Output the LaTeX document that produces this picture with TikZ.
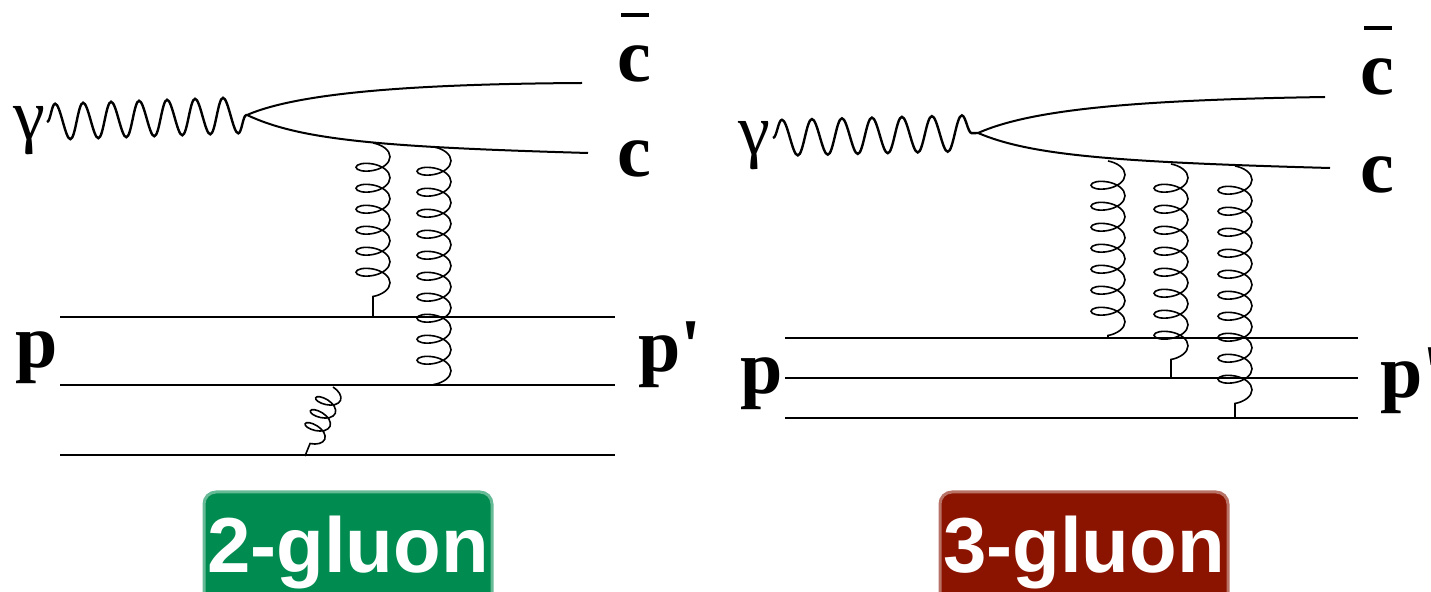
\documentclass[tikz,border=0pt]{standalone}
\usepackage{fontspec}
\setmainfont{Liberation Serif}
\newfontfamily\badgefont{Liberation Sans}
\usetikzlibrary{decorations.pathmorphing}
\definecolor{gluongreen}{HTML}{008C50}
\definecolor{gluonred}{HTML}{8B1400}
\newcommand{\quarkbar}{\rlap{\hspace{0.05em}\raisebox{0.86em}{\rule{0.36em}{0.045em}}}c}
\newcommand{\pprime}{p\textquotesingle}

\begin{document}
\begin{tikzpicture}
    [
      x=0.5pt,
      y=-0.5pt,
      quark/.style=
      {
        line width=1pt,
      },
      proton/.style=
      {
        line width=1.2pt,
      },
      photon/.style=
      {
        line width=1.2pt,
        decorate,
        decoration={snake, segment length=14pt, amplitude=9pt}
      },
      gluon/.style=
      {
        line width=0.8pt,
        decorate,
        decoration={coil, aspect=0.5, segment length=10.5pt, amplitude=8.5pt}
      },
      lbl/.style=
      {
        inner sep=0pt,
        anchor=base west,
        font=\fontsize{38}{40}\selectfont\bfseries
      },
      gam/.style=
      {
        inner sep=0pt,
        anchor=base west,
        font=\fontsize{36}{38}\selectfont
      },
      badge/.style=
      {
        inner sep=0pt,
        minimum width=144pt,
        minimum height=61pt,
        rounded corners=6pt,
        line width=1.5pt,
        text=white,
        font=\badgefont\bfseries\fontsize{39}{40}\selectfont
      }
    ]
    \useasboundingbox (0,0) rectangle (1431,592);

    % 2-gluon
    \coordinate (LVertex) at (247,115);
    \coordinate (LPhotonIn) at (47,122);
    \coordinate (LCbarEnd) at (582,83);
    \coordinate (LCEnd) at (588,153);
    \foreach \y/\n in {317/1,385/2,455/3}
    {
      \coordinate (LPin\n) at (60,\y);
      \coordinate (LPout\n) at (615,\y);
      \draw[proton] (LPin\n) -- (LPout\n);
    }
    \coordinate (LGlA) at (373,143);
    \coordinate (LGlB) at (434,147);
    \coordinate (LGlC) at (333,387);
    \coordinate (LGlAend) at (373,317);
    \coordinate (LGlBend) at (434,385);
    \coordinate (LGlCend) at (305,456);

    \node[gam] (LGamma) at (13,140) {γ};
    \node[lbl] (LCbar) at (617,82) {\quarkbar};
    \node[lbl] (LC) at (617,177) {c};
    \node[lbl] (LP) at (15,368) {p};
    \node[lbl] (LPprime) at (638,372) {\pprime};

    \draw[photon] (LPhotonIn) -- (LVertex);
    \draw[quark] (LVertex) .. controls (300,92) and (420,84) .. (LCbarEnd);
    \draw[quark] (LVertex) .. controls (300,140) and (380,147) .. (LCEnd);
    \draw[gluon] (LGlA) -- (LGlAend);
    \draw[gluon] (LGlB) -- (LGlBend);
    \draw[gluon, decoration={segment length=7pt, amplitude=6pt}] (LGlC) -- (LGlCend);

    % 3-gluon
    \coordinate (RVertex) at (978,133);
    \coordinate (RPhotonIn) at (773,138);
    \coordinate (RCbarEnd) at (1325,97);
    \coordinate (RCEnd) at (1330,168);
    \foreach \y/\n in {338/1,378/2,418/3}
    {
      \coordinate (RPin\n) at (785,\y);
      \coordinate (RPout\n) at (1358,\y);
      \draw[proton] (RPin\n) -- (RPout\n);
    }
    \coordinate (RGlA) at (1108,161);
    \coordinate (RGlB) at (1171,164);
    \coordinate (RGlC) at (1235,166);
    \coordinate (RGlAend) at (1108,338);
    \coordinate (RGlBend) at (1171,378);
    \coordinate (RGlCend) at (1235,418);

    \node[gam] (RGamma) at (738,155) {γ};
    \node[lbl] (RCbar) at (1360,95) {\quarkbar};
    \node[lbl] (RC) at (1360,193) {c};
    \node[lbl] (RP) at (740,394) {p};
    \node[lbl] (RPprime) at (1380,398) {\pprime};

    \draw[photon, decoration={segment length=15pt}] (RPhotonIn) -- (RVertex);
    \draw[quark] (RVertex) .. controls (1030,110) and (1130,100) .. (RCbarEnd);
    \draw[quark] (RVertex) .. controls (1030,155) and (1110,162) .. (RCEnd);
    \draw[gluon] (RGlA) -- (RGlAend);
    \draw[gluon] (RGlB) -- (RGlBend);
    \draw[gluon] (RGlC) -- (RGlCend);

    % badges
    \node[badge, fill=gluongreen, draw=gluongreen!60] (TwoGluon) at (348,553) {2-gluon};
    \node[badge, fill=gluonred, draw=gluonred!60] (ThreeGluon) at (1084,553) {3-gluon};
\end{tikzpicture}
\end{document}
